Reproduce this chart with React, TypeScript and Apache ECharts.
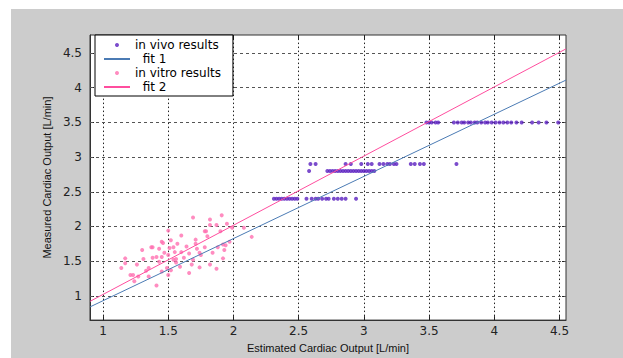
import React, { useEffect, useRef } from "react";
import * as echarts from "echarts";

// Tick positions on both axes
const xTicks = [1, 1.5, 2, 2.5, 3, 3.5, 4, 4.5];
const yTicks = [1, 1.5, 2, 2.5, 3, 3.5, 4, 4.5];

// In vivo measurements (estimated, measured), grouped by measured level
const inVivoLow: [number, number][] = [
  [2.31, 2.4], [2.33, 2.4], [2.35, 2.4], [2.37, 2.4], [2.39, 2.4], [2.41, 2.4], [2.43, 2.4],
  [2.45, 2.4], [2.47, 2.4], [2.49, 2.4], [2.56, 2.4], [2.6, 2.4], [2.63, 2.4], [2.65, 2.4],
  [2.68, 2.4], [2.71, 2.4], [2.73, 2.4], [2.77, 2.4], [2.8, 2.4], [2.83, 2.4], [2.86, 2.4],
  [2.94, 2.4],
];
const inVivoMid: [number, number][] = [
  [2.58, 2.8], [2.72, 2.8], [2.74, 2.8], [2.76, 2.8], [2.78, 2.8], [2.8, 2.8], [2.82, 2.8],
  [2.84, 2.8], [2.86, 2.8], [2.88, 2.8], [2.9, 2.8], [2.92, 2.8], [2.94, 2.8], [2.96, 2.8],
  [2.98, 2.8], [3.0, 2.8], [3.02, 2.8], [3.04, 2.8], [3.06, 2.8], [3.08, 2.8],
];
const inVivoUpper: [number, number][] = [
  [2.59, 2.9], [2.63, 2.9], [2.86, 2.9], [2.9, 2.9], [2.98, 2.9], [3.03, 2.9], [3.06, 2.9],
  [3.12, 2.9], [3.15, 2.9], [3.18, 2.9], [3.2, 2.9], [3.23, 2.9], [3.25, 2.9], [3.36, 2.9],
  [3.39, 2.9], [3.43, 2.9], [3.46, 2.9], [3.71, 2.9],
];
const inVivoHigh: [number, number][] = [
  [3.48, 3.5], [3.5, 3.5], [3.52, 3.5], [3.55, 3.5], [3.57, 3.5], [3.69, 3.5], [3.72, 3.5],
  [3.75, 3.5], [3.77, 3.5], [3.8, 3.5], [3.82, 3.5], [3.85, 3.5], [3.87, 3.5], [3.9, 3.5],
  [3.93, 3.5], [3.95, 3.5], [3.98, 3.5], [4.01, 3.5], [4.04, 3.5], [4.07, 3.5], [4.1, 3.5],
  [4.13, 3.5], [4.17, 3.5], [4.21, 3.5], [4.29, 3.5], [4.34, 3.5], [4.4, 3.5], [4.49, 3.5],
];

// In vitro measurements (estimated, measured)
const inVitro: [number, number][] = [
  [1.69, 2.13], [1.91, 2.16], [1.82, 2.1], [1.82, 2.02], [1.87, 2.02], [1.95, 2.04],
  [2.08, 1.98], [1.99, 1.98], [1.78, 1.93], [1.79, 1.93], [1.5, 1.94], [1.45, 1.78],
  [1.46, 1.76], [1.37, 1.7], [1.38, 1.7], [1.52, 1.8], [1.54, 1.7], [1.51, 1.69],
  [1.6, 1.87], [1.71, 1.81], [1.71, 1.75], [1.72, 1.68], [1.74, 1.62], [1.66, 1.61],
  [1.69, 1.52], [1.78, 1.7], [1.84, 1.62], [1.88, 1.7], [1.92, 1.74], [1.94, 1.73],
  [1.93, 1.66], [1.92, 1.54], [1.87, 1.39], [1.82, 1.45], [1.74, 1.41], [1.66, 1.33],
  [1.59, 1.42], [1.54, 1.52], [1.5, 1.59], [1.45, 1.56], [1.41, 1.56], [1.43, 1.49],
  [1.38, 1.55], [1.35, 1.4], [1.31, 1.53], [1.3, 1.66], [1.17, 1.54], [1.14, 1.4],
  [1.17, 1.47], [1.24, 1.21], [1.21, 1.3], [1.23, 1.3], [1.41, 1.15], [1.45, 1.35],
  [1.49, 1.4], [1.52, 1.37], [1.56, 1.53], [1.55, 1.63], [1.6, 1.63], [1.57, 1.75],
  [1.64, 1.71], [1.75, 1.59], [1.5, 1.3], [1.35, 1.28], [2.14, 1.85], [1.62, 1.55],
  [1.47, 1.62], [1.56, 1.48], [1.68, 1.45], [1.26, 1.45], [1.33, 1.36], [1.8, 1.86],
  [1.97, 1.78], [1.43, 1.68], [1.27, 1.28], [1.9, 1.93],
];

// Fitted regression lines, end points across the plotted range
const fit1: [number, number][] = [[0.9, 0.84], [4.55, 4.11]];
const fit2: [number, number][] = [[0.9, 0.92], [4.55, 4.56]];

const PURPLE = "#5a1fbf";
const PINK_DOT = "#ff6fb0";
const PINK_LINE = "#ff4d9e";
const BLUE_LINE = "#4b7bb4";
const LABEL_FONT = "DejaVu Sans, Verdana, sans-serif";
const NAME_FONT = "Liberation Sans, Arial, sans-serif";

export default function App() {
  const ref = useRef<HTMLDivElement>(null);

  useEffect(() => {
    if (!ref.current) return;
    const chart = echarts.init(ref.current, undefined, { renderer: "svg" });

    const tickStyle = { show: true, inside: true, length: 4, lineStyle: { color: "#222" } };

    chart.setOption({
      animation: false,
      backgroundColor: "#cccccc",
      grid: {
        left: 79,
        top: 26,
        right: 57,
        bottom: 34,
        show: true,
        backgroundColor: "#ffffff",
        borderColor: "#333",
        borderWidth: 1,
      },
      legend: {
        orient: "vertical",
        left: 84,
        top: 26,
        z: 20,
        backgroundColor: "#ffffff",
        borderColor: "#000",
        borderWidth: 1,
        borderRadius: 0,
        padding: [3, 12, 2, 8],
        itemGap: 0,
        itemWidth: 26,
        itemHeight: 4,
        formatter: (name: string) => (name.startsWith("fit") ? "  " + name : name),
        textStyle: { fontFamily: LABEL_FONT, fontSize: 12, lineHeight: 14, color: "#000" },
        data: [
          { name: "in vivo results", icon: "circle" },
          { name: "fit 1", itemStyle: { opacity: 0 } },
          { name: "in vitro results", icon: "circle" },
          { name: "fit 2", itemStyle: { opacity: 0 } },
        ],
      },
      xAxis: [
        {
          type: "value",
          min: 0.9,
          max: 4.55,
          name: "Estimated Cardiac Output [L/min]",
          nameLocation: "middle",
          nameGap: 18,
          nameTextStyle: { fontFamily: NAME_FONT, fontSize: 11, color: "#111" },
          axisLine: { show: true, onZero: false, lineStyle: { color: "#333" } },
          axisTick: { ...tickStyle, customValues: xTicks },
          axisLabel: {
            customValues: xTicks,
            margin: 5,
            fontFamily: LABEL_FONT,
            fontSize: 12,
            color: "#222",
            formatter: (v: number) => String(v),
          },
          splitLine: { show: false },
        },
        {
          type: "value",
          position: "top",
          min: 0.9,
          max: 4.55,
          axisLine: { show: false },
          axisTick: { ...tickStyle, customValues: xTicks },
          axisLabel: { show: false },
          splitLine: { show: false },
        },
      ],
      yAxis: [
        {
          type: "value",
          min: 0.65,
          max: 4.76,
          name: "Measured Cardiac Output [L/min]",
          nameLocation: "middle",
          nameGap: 29,
          nameTextStyle: { fontFamily: NAME_FONT, fontSize: 11, color: "#111" },
          axisLine: { show: true, onZero: false, lineStyle: { color: "#333" } },
          axisTick: { ...tickStyle, customValues: yTicks },
          axisLabel: {
            customValues: yTicks,
            margin: 8,
            fontFamily: LABEL_FONT,
            fontSize: 12,
            color: "#222",
            formatter: (v: number) => String(v),
          },
          splitLine: { show: false },
        },
        {
          type: "value",
          position: "right",
          min: 0.65,
          max: 4.76,
          axisLine: { show: false },
          axisTick: { ...tickStyle, customValues: yTicks },
          axisLabel: { show: false },
          splitLine: { show: false },
        },
      ],
      series: [
        {
          name: "grid",
          type: "line",
          data: [],
          silent: true,
          z: 1,
          markLine: {
            silent: true,
            z: 1,
            symbol: "none",
            label: { show: false },
            animation: false,
            data: [
              ...xTicks.map((v) => ({
                xAxis: v,
                lineStyle: { color: "#222", width: 1, type: [1.5, 2.5] },
              })),
              ...yTicks.map((v) => ({
                yAxis: v,
                lineStyle: { color: "#555", width: 1, type: [3, 3] },
              })),
            ],
          },
        },
        ...[inVivoLow, inVivoMid, inVivoUpper, inVivoHigh].map((d) => ({
          name: "in vivo results",
          type: "scatter",
          data: d,
          symbol: "circle",
          symbolSize: 4,
          itemStyle: { color: PURPLE },
          z: 3,
        })),
        {
          name: "fit 1",
          type: "line",
          data: fit1,
          symbol: "none",
          lineStyle: { color: BLUE_LINE, width: 1 },
          itemStyle: { color: BLUE_LINE },
          z: 4,
        },
        {
          name: "in vitro results",
          type: "scatter",
          data: inVitro,
          symbol: "circle",
          symbolSize: 4,
          itemStyle: { color: PINK_DOT },
          z: 3,
        },
        {
          name: "fit 2",
          type: "line",
          data: fit2,
          symbol: "none",
          lineStyle: { color: PINK_LINE, width: 1 },
          itemStyle: { color: PINK_LINE },
          z: 4,
        },
      ],
    });

    return () => chart.dispose();
  }, []);

  return (
    <div
      style={{
        position: "absolute",
        left: 0,
        top: 0,
        width: 623,
        height: 358,
        background: "#ffffff",
        overflow: "hidden",
      }}
    >
      <div
        ref={ref}
        style={{ position: "absolute", left: 11, top: 9, width: 612, height: 349 }}
      />
    </div>
  );
}
